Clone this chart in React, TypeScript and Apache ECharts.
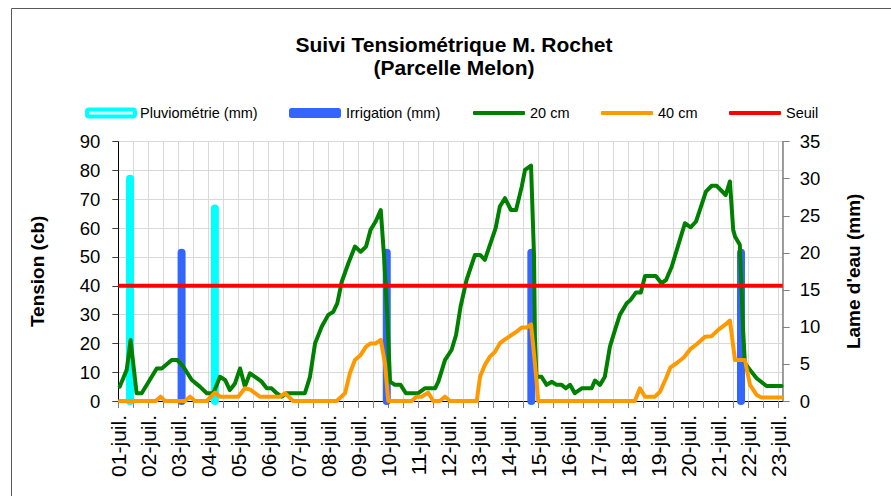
import React, { useEffect, useRef } from "react";
import * as echarts from "echarts";

// x positions are in days after 01-juil. 00:00
const dateLabels = [
  "01-juil.", "02-juil.", "03-juil.", "04-juil.", "05-juil.", "06-juil.",
  "07-juil.", "08-juil.", "09-juil.", "10-juil.", "11-juil.", "12-juil.",
  "13-juil.", "14-juil.", "15-juil.", "16-juil.", "17-juil.", "18-juil.",
  "19-juil.", "20-juil.", "21-juil.", "22-juil.", "23-juil.",
];

const pluvio = [
  [0.39, 30],
  [3.22, 26],
];

const irrigation = [
  [2.11, 20],
  [8.95, 20],
  [13.77, 20],
  [20.76, 20],
];

const tension20 = [
  [0.05, 5.0], [0.28, 10.8], [0.41, 21.2], [0.61, 2.7], [0.78, 2.7], [1.28, 11.3],
  [1.45, 11.3], [1.78, 14.2], [1.97, 14.2], [2.17, 11.9], [2.45, 7.3], [2.72, 5.0],
  [2.95, 2.7], [3.17, 2.7], [3.39, 8.4], [3.56, 7.3], [3.72, 3.8], [3.89, 6.1],
  [4.06, 11.3], [4.22, 5.0], [4.39, 9.6], [4.56, 8.4], [4.78, 6.7], [4.95, 4.4],
  [5.11, 4.4], [5.28, 2.7], [5.45, 1.5], [5.61, 2.7], [6.22, 2.7], [6.39, 8.4],
  [6.56, 20.0], [6.78, 25.8], [7.0, 29.9], [7.17, 31.0], [7.3, 33.9], [7.45, 41.4],
  [7.67, 47.8], [7.89, 53.6], [8.08, 51.8], [8.26, 53.6], [8.41, 59.4], [8.58, 62.3],
  [8.75, 66.3], [8.86, 50.1], [8.97, 29.3], [9.06, 6.7], [9.22, 5.6], [9.41, 5.6],
  [9.59, 2.7], [10.0, 2.7], [10.22, 4.4], [10.56, 4.4], [10.67, 6.7], [10.89, 14.2],
  [11.11, 17.7], [11.26, 22.9], [11.41, 32.7], [11.61, 42.0], [11.89, 50.7], [12.06, 50.7],
  [12.22, 49.0], [12.39, 54.2], [12.58, 60.0], [12.72, 67.5], [12.89, 70.4], [13.09, 66.3],
  [13.26, 66.3], [13.45, 74.4], [13.56, 80.2], [13.76, 81.7], [13.86, 50.1], [13.89, 22.3],
  [13.94, 8.4], [14.11, 8.4], [14.28, 5.6], [14.45, 6.7], [14.61, 5.6], [14.78, 5.6],
  [14.92, 4.4], [15.06, 5.6], [15.22, 2.7], [15.45, 4.4], [15.78, 4.4], [15.89, 7.1],
  [16.06, 5.6], [16.22, 8.4], [16.39, 18.9], [16.56, 24.7], [16.72, 29.9], [16.95, 33.9],
  [17.08, 35.1], [17.26, 37.7], [17.42, 37.7], [17.56, 43.4], [17.92, 43.4], [18.11, 40.9],
  [18.26, 42.0], [18.45, 46.6], [18.67, 54.2], [18.89, 61.7], [19.08, 60.3], [19.26, 62.3],
  [19.39, 66.3], [19.59, 72.7], [19.78, 74.7], [19.95, 74.7], [20.25, 71.5], [20.39, 76.2],
  [20.5, 59.4], [20.56, 57.1], [20.72, 54.2], [20.83, 24.7], [20.89, 13.1], [21.06, 10.8],
  [21.28, 7.9], [21.61, 5.2], [22.11, 5.2],
];

const tension40 = [
  [0.05, 0], [1.25, 0], [1.41, 1.5], [1.56, 0], [2.22, 0], [2.39, 1.5], [2.56, 0],
  [2.95, 0], [3.22, 2.9], [3.39, 1.5], [4.0, 1.5], [4.22, 4.4], [4.39, 4.0], [4.72, 1.5],
  [5.39, 1.5], [5.56, 2.7], [5.83, 0], [7.28, 0], [7.56, 2.7], [7.72, 9.6], [7.89, 14.2],
  [8.08, 16.0], [8.26, 18.9], [8.41, 20.0], [8.58, 20.0], [8.75, 21.2], [8.89, 13.1],
  [9.0, 0], [9.78, 0], [9.94, 1.5], [10.11, 1.5], [10.33, 2.9], [10.5, 0], [10.72, 0],
  [10.89, 1.5], [11.06, 0], [11.95, 0], [12.06, 8.4], [12.22, 12.5], [12.39, 15.4],
  [12.56, 17.1], [12.72, 20.0], [12.89, 21.4], [13.11, 22.9], [13.28, 24.1], [13.45, 25.5],
  [13.61, 25.5], [13.76, 26.6], [13.89, 13.1], [14.0, 0], [17.22, 0], [17.39, 4.4],
  [17.56, 1.5], [17.89, 1.5], [18.06, 3.2], [18.26, 7.9], [18.41, 11.7], [18.61, 13.1],
  [18.86, 15.2], [19.06, 17.9], [19.28, 19.7], [19.56, 22.3], [19.78, 22.5], [20.0, 24.7],
  [20.22, 26.4], [20.39, 27.9], [20.56, 14.2], [20.89, 14.2], [21.06, 5.6], [21.28, 2.1],
  [21.44, 1.2], [22.11, 1.2],
];

const seuil = 40;
const xMax = 22.15;

const titleLines = ["Suivi Tensiométrique M. Rochet", "(Parcelle Melon)"];

const FONT = "'Liberation Sans', Arial, Helvetica, sans-serif";

function waterBar(color: string) {
  return (params: any, api: any) => {
    const x = api.value(0);
    const v = api.value(1);
    const p0 = api.coord([x, 0]);
    const p1 = api.coord([x, v]);
    return {
      type: "line",
      shape: { x1: p0[0], y1: p0[1], x2: p1[0], y2: p1[1] },
      style: { stroke: color, lineWidth: 8, lineCap: "round" },
    };
  };
}

function legendFor(name: string, left: number, w: number, h: number, extra: any = {}) {
  return {
    left,
    top: 105.5,
    padding: 0,
    itemWidth: w,
    itemHeight: h,
    selectedMode: false,
    textStyle: { fontSize: 14.5, color: "#000", fontFamily: FONT },
    data: [{ name, icon: "roundRect", ...extra }],
  };
}

export default function App() {
  const ref = useRef<HTMLDivElement>(null);

  useEffect(() => {
    if (!ref.current) return;
    const chart = echarts.init(ref.current, null, { renderer: "svg" });
    const option: any = {
      animation: false,
      backgroundColor: "#fff",
      textStyle: { fontFamily: FONT },
      graphic: [
        {
          type: "rect",
          silent: true,
          shape: { x: 11.5, y: 8.5, width: 1000, height: 1000 },
          style: { fill: "none", stroke: "#595959", lineWidth: 1 },
        },
        {
          type: "text",
          x: 454,
          y: 44.5,
          style: {
            text: titleLines[0],
            align: "center",
            verticalAlign: "middle",
            fontSize: 21,
            fontWeight: "bold",
            fontFamily: FONT,
            fill: "#000",
          },
        },
        {
          type: "text",
          x: 454,
          y: 67.5,
          style: {
            text: titleLines[1],
            align: "center",
            verticalAlign: "middle",
            fontSize: 21,
            fontWeight: "bold",
            fontFamily: FONT,
            fill: "#000",
          },
        },
      ],
      legend: [
        legendFor("Pluviométrie (mm)", 85, 48, 7, {
          itemStyle: { color: "#ccffff", borderColor: "#00ffff", borderWidth: 4 },
        }),
        legendFor("Irrigation (mm)", 289, 52, 10),
        legendFor("20 cm", 473, 52, 4),
        legendFor("40 cm", 601, 52, 4),
        legendFor("Seuil", 729, 52, 4),
      ],
      grid: { left: 118.3, right: 108.3, top: 141.7, bottom: 95 },
      xAxis: {
        type: "value",
        min: 0,
        max: xMax,
        interval: 0.5,
        axisLine: { show: true, lineStyle: { color: "#000", width: 1 } },
        axisTick: { show: true, length: 7, lineStyle: { color: "#808080" } },
        axisLabel: {
          rotate: 90,
          fontSize: 21,
          color: "#000",
          margin: 14,
          showMaxLabel: false,
          formatter: (v: number) => {
            const r = Math.round(v);
            return Math.abs(v - r) < 1e-6 && r < dateLabels.length ? dateLabels[r] : "";
          },
        },
        splitLine: { show: true, lineStyle: { color: "#d9d9d9", width: 1 } },
      },
      yAxis: [
        {
          type: "value",
          min: 0,
          max: 90,
          interval: 10,
          name: "Tension (cb)",
          nameLocation: "middle",
          nameRotate: 90,
          nameGap: 71,
          nameTextStyle: { fontSize: 19, fontWeight: "bold", color: "#000" },
          axisLine: { show: true, lineStyle: { color: "#000", width: 1 } },
          axisTick: { show: true, length: 6, lineStyle: { color: "#404040" } },
          axisLabel: { fontSize: 18.5, color: "#000", margin: 18 },
          splitLine: { show: true, lineStyle: { color: "#d9d9d9", width: 1 } },
        },
        {
          type: "value",
          min: 0,
          max: 35,
          interval: 5,
          position: "right",
          name: "Lame d'eau (mm)",
          nameLocation: "middle",
          nameRotate: 90,
          nameGap: 61,
          nameTextStyle: { fontSize: 19, fontWeight: "bold", color: "#000" },
          axisLine: { show: true, lineStyle: { color: "#808080", width: 1.5 } },
          axisTick: { show: true, length: 7, lineStyle: { color: "#808080" } },
          axisLabel: { fontSize: 18.5, color: "#000", margin: 17 },
          splitLine: { show: false },
        },
      ],
      series: [
        {
          name: "Pluviométrie (mm)",
          type: "custom",
          xAxisIndex: 0,
          yAxisIndex: 1,
          clip: false,
          itemStyle: { color: "#00ffff" },
          encode: { x: 0, y: 1 },
          renderItem: waterBar("#00ffff"),
          data: pluvio,
          z: 2,
        },
        {
          name: "Irrigation (mm)",
          type: "custom",
          xAxisIndex: 0,
          yAxisIndex: 1,
          clip: false,
          itemStyle: { color: "#3366ff" },
          encode: { x: 0, y: 1 },
          renderItem: waterBar("#3366ff"),
          data: irrigation,
          z: 2,
        },
        {
          name: "20 cm",
          type: "line",
          yAxisIndex: 0,
          symbol: "none",
          clip: false,
          color: "#008000",
          lineStyle: { color: "#008000", width: 4, cap: "round", join: "round" },
          data: tension20,
          z: 3,
        },
        {
          name: "40 cm",
          type: "line",
          yAxisIndex: 0,
          symbol: "none",
          clip: false,
          color: "#ff9900",
          lineStyle: { color: "#ff9900", width: 4, cap: "round", join: "round" },
          data: tension40,
          z: 3,
        },
        {
          name: "Seuil",
          type: "line",
          yAxisIndex: 0,
          symbol: "none",
          clip: false,
          color: "#ff0000",
          lineStyle: { color: "#ff0000", width: 4 },
          data: [
            [0, seuil],
            [xMax, seuil],
          ],
          z: 3,
        },
      ],
    };
    chart.setOption(option);
    return () => chart.dispose();
  }, []);

  return (
    <div
      ref={ref}
      style={{ position: "fixed", left: 0, top: 0, width: 891, height: 496, background: "#fff" }}
    />
  );
}
